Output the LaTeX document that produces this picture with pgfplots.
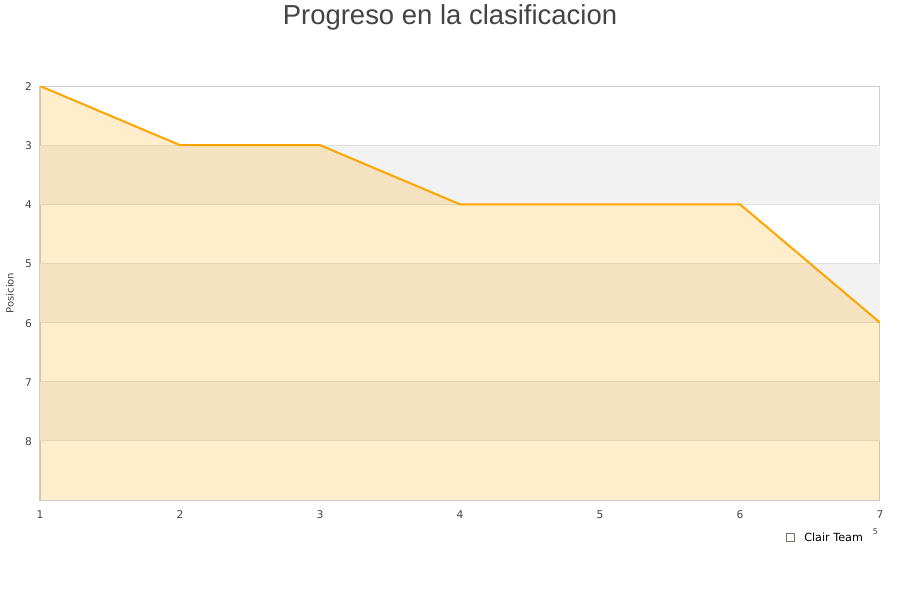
\documentclass[border=0pt]{standalone}
\usepackage{pgfplots}
\pgfplotsset{compat=1.18}
\usepackage{fontspec}
\setmainfont{DejaVu Sans}
\newfontfamily\titlefont{Liberation Sans}
\definecolor{lineorange}{HTML}{FFA500}
\definecolor{band}{HTML}{F2F2F2}
\definecolor{gridc}{HTML}{E0E0E0}
\definecolor{axc}{HTML}{CCCCCC}
\definecolor{txt}{HTML}{444444}
\definecolor{legfill}{HTML}{FFEDCC}
\begin{document}
\begin{tikzpicture}
\fill[white] (0,0) rectangle (675pt,450pt);
\path[use as bounding box] (0,0) rectangle (675pt,450pt);
\node[font=\titlefont\fontsize{20.6}{24}\selectfont, text=txt] at (337.5pt,437.3pt) {Progreso en la clasificacion};
\begin{axis}[
    at={(30pt,75pt)}, anchor=south west,
    scale only axis, width=630pt, height=310.5pt,
    xmin=1, xmax=7, ymin=2, ymax=9, y dir=reverse,
    xtick={1,...,7}, ytick={2,...,8},
    major tick length=0pt,
    axis line style={axc, line width=0.75pt},
    tick label style={font=\fontsize{8}{9}\selectfont, text=txt},
    xticklabel style={yshift=-4.5pt},
    yticklabel style={xshift=-2.5pt, yshift=-0.5pt},
    /pgf/number format/assume math mode=true,
    ylabel={Posicion},
    ylabel style={font=\fontsize{7.5}{9}\selectfont, text=txt,
        at={(axis description cs:-0.0357,0.5)}, anchor=center},
    legend style={at={(axis description cs:0.8881,-0.0912)}, anchor=west,
        draw=none, fill=none, inner sep=0pt,
        font=\fontsize{8.4}{10}\selectfont,
        /tikz/every even column/.append style={column sep=0pt}},
    legend cell align=left,
    legend image code/.code={\draw[draw=black!55, fill=legfill, line width=0.5pt] (0pt,-3pt) rectangle (6pt,3pt); \path (0pt,0pt) -- (11.25pt,0pt);},
]
% alternating row bands
\addplot[forget plot, draw=none, fill=band] coordinates {(1,3) (7,3) (7,4) (1,4)};
\addplot[forget plot, draw=none, fill=band] coordinates {(1,5) (7,5) (7,6) (1,6)};
\addplot[forget plot, draw=none, fill=band] coordinates {(1,7) (7,7) (7,8) (1,8)};
% horizontal grid lines
\addplot[forget plot, gridc, line width=0.75pt] coordinates {(1,3) (7,3)};
\addplot[forget plot, gridc, line width=0.75pt] coordinates {(1,4) (7,4)};
\addplot[forget plot, gridc, line width=0.75pt] coordinates {(1,5) (7,5)};
\addplot[forget plot, gridc, line width=0.75pt] coordinates {(1,6) (7,6)};
\addplot[forget plot, gridc, line width=0.75pt] coordinates {(1,7) (7,7)};
\addplot[forget plot, gridc, line width=0.75pt] coordinates {(1,8) (7,8)};

\addplot[draw=none, fill=lineorange, fill opacity=0.2] coordinates {
    (1,9) (1,2) (2,3) (3,3) (4,4) (5,4) (6,4) (7,6) (7,9)
};
\addlegendentry{Clair Team}
\addplot[forget plot, lineorange, line width=1.5pt] coordinates {
    (1,2) (2,3) (3,3) (4,4) (5,4) (6,4) (7,6)
};
\end{axis}
\node[font=\fontsize{6}{7}\selectfont, text=txt] at (656.5pt,51pt) {5};
\end{tikzpicture}
\end{document}
